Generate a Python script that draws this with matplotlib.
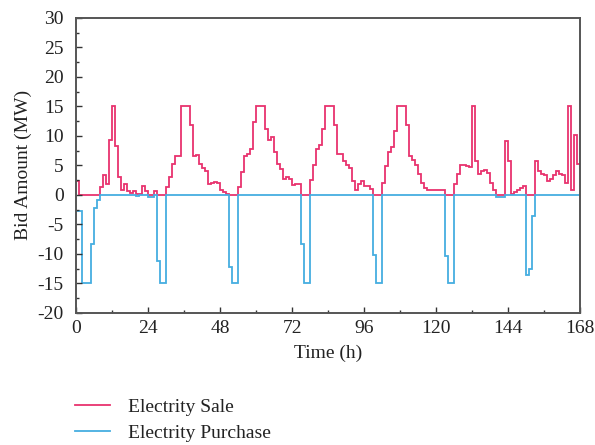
import matplotlib

matplotlib.use("Agg")
import matplotlib.pyplot as plt
import numpy as np
from matplotlib.ticker import MultipleLocator

# hourly bid amounts (MW) over one week
sale = [
    2.4, 0, 0, 0, 0, 0, 0, 0, 1.4, 3.3, 1.9, 9.3, 15, 8.2, 3.0, 0.8, 1.9, 0.7, 0.3, 0.7,
    0.2, 0.2, 1.5, 0.7, 0, 0, 0.7, 0, 0, 0, 1.4, 3.0, 5.2, 6.6, 6.6, 15, 15, 15, 11.8, 6.5,
    6.8, 5.2, 4.5, 4.0, 1.9, 2.0, 2.2, 2.0, 0.85, 0.5, 0.2, 0, 0, 0, 1.25, 3.8, 6.5, 6.9, 7.8, 12.3,
    15, 15, 15, 11.2, 9.3, 9.8, 7.2, 5.3, 4.4, 2.6, 3.1, 2.6, 1.6, 1.8, 1.8, 0, 0, 0, 2.5, 5.1,
    7.8, 8.5, 11.1, 15, 15, 15, 11.9, 6.9, 6.9, 5.7, 5.0, 4.5, 2.3, 0.9, 1.9, 2.3, 1.5, 1.5, 1.0, 0,
    0, 0, 2.0, 4.8, 7.2, 8.1, 10.9, 15, 15, 15, 11.8, 6.6, 5.9, 5.0, 3.5, 2.0, 1.1, 0.85, 0.85, 0.85,
    0.8, 0.9, 0.9, 0, 0, 0, 1.9, 3.5, 5.1, 5.1, 4.9, 4.7, 15, 5.8, 3.5, 4.0, 4.2, 3.75, 2.0, 0.8,
    0, 0, 0, 9.2, 5.8, 0.2, 0.45, 0.8, 1.1, 1.5, 0, 0, 0, 5.8, 4.1, 3.6, 3.3, 2.4, 2.6, 3.3,
    4.0, 3.6, 3.3, 2.0, 15, 0.8, 10.2, 5.3,
]
purchase = [
    -2.7, -2.7, -15, -15, -15, -8.4, -2.2, -0.8, 0, 0, 0, 0, 0, 0, 0, 0, 0, 0, 0, 0,
    -0.2, 0, 0, 0, -0.3, -0.4, 0, -11.2, -15, -15, 0, 0, 0, 0, 0, 0, 0, 0, 0, 0,
    0, 0, 0, 0, 0, 0, 0, 0, 0, 0, 0, -12.2, -15, -15, 0, 0, 0, 0, 0, 0,
    0, 0, 0, 0, 0, 0, 0, 0, 0, 0, 0, 0, 0, 0, 0, -8.3, -15, -15, 0, 0,
    0, 0, 0, 0, 0, 0, 0, 0, 0, 0, 0, 0, 0, 0, 0, 0, 0, 0, 0, -10.2,
    -15, -15, 0, 0, 0, 0, 0, 0, 0, 0, 0, 0, 0, 0, 0, 0, 0, 0, 0, 0,
    0, 0, 0, -10.3, -15, -15, 0, 0, 0, 0, 0, 0, 0, 0, 0, 0, 0, 0, 0, 0,
    -0.45, -0.45, -0.45, 0, 0, 0, 0, 0, 0, 0, -13.6, -12.5, -3.6, 0, 0, 0, 0, 0, 0, 0,
    0, 0, 0, 0, 0, 0, 0, 0,
]
hours = np.arange(len(sale) + 1)

plt.rcParams["font.family"] = ["Liberation Serif", "DejaVu Serif"]
plt.rcParams["font.size"] = 14
plt.rcParams["axes.unicode_minus"] = False

fig = plt.figure(figsize=(5.95, 4.45), dpi=100)
ax = fig.add_axes([0.128, 0.297, 0.847, 0.663])

ax.stairs(sale, hours, baseline=None, color="#e8336e", linewidth=1.3, label="Electrity Sale")
ax.stairs(purchase, hours, baseline=None, color="#45aee0", linewidth=1.3, label="Electrity Purchase")

ax.set_xlim(0, 168)
ax.set_ylim(-20, 30)
ax.xaxis.set_major_locator(MultipleLocator(24))
ax.xaxis.set_minor_locator(MultipleLocator(12))
ax.yaxis.set_major_locator(MultipleLocator(5))
ax.yaxis.set_minor_locator(MultipleLocator(2.5))
ax.tick_params(which="both", direction="in", top=False, right=False, colors="#333333",
               labelcolor="#222222", labelsize=14)
ax.tick_params(which="major", length=4, width=1, pad=5)
ax.tick_params(axis="y", which="major", pad=9)
ax.tick_params(which="minor", length=2.5, width=1)
for spine in ax.spines.values():
    spine.set_color("#555555")
    spine.set_linewidth(1.4)

ax.set_xlabel("Time (h)", color="#222222", labelpad=6)
ax.set_ylabel("Bid Amount (MW)", color="#222222", labelpad=4)

fig.legend(loc="upper left", bbox_to_anchor=(0.097, 0.145), frameon=False,
           handlelength=1.8, handletextpad=0.9, labelspacing=0.45, fontsize=14,
           labelcolor="#222222")

fig.savefig("out.png", dpi=100)
